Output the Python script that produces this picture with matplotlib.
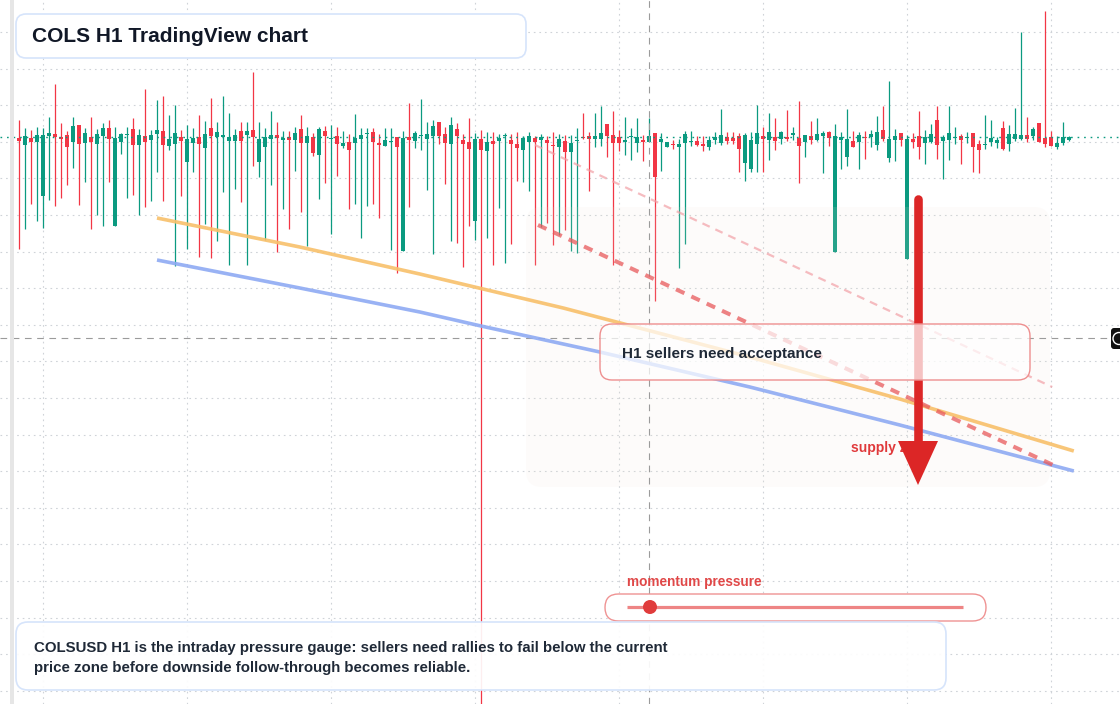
import matplotlib
matplotlib.use("Agg")
import matplotlib.pyplot as plt
from matplotlib.patches import FancyBboxPatch, Rectangle, Polygon, Circle
from matplotlib.transforms import Affine2D
import numpy as np

W, H = 1120, 704

# ---- OHLC data (chart units; vertical scale grows downward, smaller = higher price) ----
opens = [
    138,145,138,142,196,136,134,137,135,142,125,143,137,144,136,128,226,142,135,129,145,136,
    140,134,131,146,144,137,162,143,137,148,128,137,137,141,141,131,135,130,162,147,139,135,
    140,137,140,129,143,137,155,131,139,136,146,142,143,139,134,132,143,146,142,137,251,137,
    141,136,139,136,122,134,144,129,140,142,221,139,151,141,141,136,140,144,150,142,138,140,
    140,145,147,141,152,141,137,136,139,139,124,135,137,142,137,143,140,142,133,142,147,144,
    147,143,142,141,144,147,140,143,137,138,136,163,169,144,136,140,137,139,137,135,138,142,
    136,140,136,132,252,140,157,141,142,137,137,145,130,158,140,133,259,139,136,143,142,120,
    141,140,138,136,138,133,144,145,142,143,128,144,139,139,135,136,123,138,137,147,143,140]
closes = [
    141,136,142,135,135,133,137,139,147,126,144,133,142,134,128,139,138,134,134,145,135,142,
    135,130,145,139,133,141,139,138,144,134,136,132,135,137,135,141,131,137,139,137,135,138,
    138,140,133,143,136,153,129,136,138,144,143,150,138,135,133,142,145,140,141,147,138,140,
    133,135,134,126,136,143,125,136,144,149,139,150,142,144,138,135,144,148,138,136,142,137,
    143,146,139,152,143,140,138,139,136,133,136,143,143,140,136,137,142,136,177,139,142,145,
    144,134,141,145,146,140,137,135,141,141,149,135,140,133,139,132,141,132,139,133,146,135,
    140,134,133,138,136,137,139,147,135,138,134,132,139,139,136,140,139,142,147,137,134,145,
    137,133,137,140,137,147,150,144,138,140,149,134,134,135,139,129,142,144,146,143,137,137]
highs = [
    120,128,130,127,128,117,84,123,131,117,125,128,117,129,123,120,127,133,127,118,129,89,
    130,100,96,115,105,130,125,128,115,121,98,122,96,113,129,122,122,72,122,128,111,122,
    131,131,127,115,127,133,127,126,125,127,131,134,114,128,128,128,134,128,128,137,131,103,
    131,99,122,120,122,127,117,123,134,118,133,130,132,132,134,133,134,132,136,132,136,134,
    136,132,134,135,135,128,113,132,113,106,124,111,130,117,128,118,135,118,133,133,142,140,
    139,131,131,136,136,136,132,109,132,132,133,133,132,105,127,113,118,131,110,127,101,135,
    121,118,131,131,124,132,109,131,132,131,130,116,106,81,129,133,135,133,111,130,124,106,
    135,106,127,134,132,133,140,115,120,137,121,125,108,32,117,127,123,11,131,136,122,136]
lows = [
    249,229,204,221,228,200,206,198,185,168,205,182,229,215,226,182,226,154,198,195,215,207,
    201,172,201,150,266,196,249,172,257,224,258,241,192,265,189,202,265,166,177,240,185,252,
    209,229,171,212,246,156,199,183,234,176,148,209,204,238,206,204,218,146,250,273,251,207,
    148,150,190,254,144,184,241,243,267,226,240,740,238,265,208,263,244,181,182,191,265,227,
    223,245,235,230,251,253,139,191,147,146,157,265,151,155,160,152,161,142,301,171,147,149,
    268,244,146,146,151,150,144,145,144,144,172,181,172,172,172,160,150,144,141,140,183,157,
    144,141,173,146,252,169,166,147,169,159,147,150,141,162,161,146,259,148,159,164,143,159,
    179,160,144,164,143,172,173,149,146,148,150,151,141,140,142,140,142,147,146,149,145,141]

last_price = 137
crosshair_bar = 105
crosshair_level = 338

# overlay studies (bar index, chart level)
orange_x = [23, 46.8, 66.8, 90.7, 121.8, 146.8, 175.8]
orange_y = [218, 247, 274, 308, 357, 399, 451]
blue_x = [23, 46.8, 66.8, 77, 96.8, 121.8, 146.8, 175.8]
blue_y = [260, 288, 312, 326, 352, 387, 425, 471]
red_dash_x = [86.5, 172.7]
red_dash_y = [225, 466]
pink_dash_x = [86.0, 172.2]
pink_dash_y = [145, 387]

title = "COLS H1 TradingView chart"
note_h1 = "H1 sellers need acceptance"
zone_label = "supply zone"
momentum_label = "momentum pressure"
bottom_text = ("COLSUSD H1 is the intraday pressure gauge: sellers need rallies to fail below the current\n"
               "price zone before downside follow-through becomes reliable.")

GREEN = "#0b9a80"
RED = "#f23645"
FONT = "Liberation Sans"

fig = plt.figure(figsize=(W / 100, H / 100), dpi=100)
ax = fig.add_axes([0, 0, 1, 1])
ax.set_xlim(-19 / 6, (W - 19) / 6)
ax.set_ylim(H, 0)
ax.axis("off")
ax.set_autoscale_on(False)

px = Affine2D().scale(1 / W, -1 / H).translate(0, 1) + fig.transFigure

# grid
for lvl in np.arange(32, H, 36.6):
    ax.axhline(lvl, color="#cfd3d8", lw=0.8, ls=(0, (1.5, 3.5)), zorder=1)
for b in range(4, 180, 24):
    ax.axvline(b, color="#cfd3d8", lw=0.8, ls=(0, (1.5, 3.5)), zorder=1)

# candles
o = np.array(opens, float)
c = np.array(closes, float)
hi = np.array(highs, float)
lo = np.array(lows, float)
idx = np.arange(len(o))
cols = np.where(c <= o, GREEN, RED)
ax.vlines(idx, hi, lo, colors=cols, lw=0.9, zorder=2)
body_bot = np.minimum(o, c)
body_h = np.maximum(np.abs(o - c), 1.2)
ax.bar(idx, body_h, bottom=body_bot, width=0.75, color=cols, lw=0, zorder=2.1)

# last price line
ax.axhline(last_price, color=GREEN, lw=1.0, ls=(0, (1.2, 3.5)), zorder=2.2)

# supply zone shading
ax.add_patch(FancyBboxPatch((526, 207), 524, 280, boxstyle="round,pad=0,rounding_size=16",
                            transform=px, fc=(240/255, 228/255, 215/255), alpha=0.12, ec="none", zorder=3))

# crosshair
ax.axvline(crosshair_bar, color="#9b9b9b", lw=0.8, ls=(0, (6, 5)), zorder=3.5)
ax.axhline(crosshair_level, color="#9b9b9b", lw=0.8, ls=(0, (6, 5)), zorder=3.5, xmax=1110 / W)

# trend studies
ax.plot(orange_x, orange_y, color="#f8c06a", lw=2.6, alpha=0.9, zorder=4, solid_capstyle="butt")
ax.plot(blue_x, blue_y, color="#8eaaf3", lw=2.6, alpha=0.9, zorder=4, solid_capstyle="butt")
ax.plot(red_dash_x, red_dash_y, color="#e8595b", lw=2.9, alpha=0.75, ls=(0, (2.3, 1.9)), zorder=4.1)
ax.plot(pink_dash_x, pink_dash_y, color="#f2a0a6", lw=1.6, alpha=0.7, ls=(0, (3.6, 2.8)), zorder=4.1)

# supply zone label and arrow
ax.text(851, 448, zone_label, transform=px, color="#e0393b", fontsize=10, fontweight="bold",
        family=FONT, va="center", ha="left", zorder=5)
ax.plot([918, 918], [199, 445], transform=px, color="#dc2626", lw=6.2, solid_capstyle="round", zorder=5.5)
ax.add_patch(Polygon([(898, 441), (938, 441), (918, 485)], closed=True, transform=px,
                     fc="#dc2626", ec="none", zorder=5.5))

# H1 note box
ax.add_patch(FancyBboxPatch((600, 324), 430, 56, boxstyle="round,pad=0,rounding_size=12",
                            transform=px, fc=(1, 1, 1, 0.72), ec="#ee8f8f", lw=1.0, zorder=6))
ax.text(622, 354, note_h1, transform=px, color="#1f2937", fontsize=11, fontweight="bold",
        family=FONT, va="center", ha="left", zorder=6.5)

# momentum gauge
ax.text(627, 582, momentum_label, transform=px, color="#e04848", fontsize=9.8, fontweight="bold",
        family=FONT, va="center", ha="left", zorder=7)
ax.add_patch(FancyBboxPatch((605, 594), 381, 27, boxstyle="round,pad=0,rounding_size=13.5",
                            transform=px, fc="white", ec="#ef9393", lw=1.0, zorder=7))
ax.plot([627, 963], [607, 607], transform=px, color="#ee8585", lw=2.3, zorder=7.1, solid_capstyle="butt")
ax.add_patch(Circle((650, 607), 7, transform=px, fc="#e03c3c", ec="none", zorder=7.2))

# bottom text box
ax.add_patch(FancyBboxPatch((16, 622), 930, 68, boxstyle="round,pad=0,rounding_size=12",
                            transform=px, fc=(1, 1, 1, 0.92), ec="#d6e4fb", lw=1.2, zorder=7))
ax.text(34, 658, bottom_text, transform=px, color="#1f2937", fontsize=10.8, fontweight="bold",
        family=FONT, va="center", ha="left", linespacing=1.55, zorder=7.5)

# title box
ax.add_patch(FancyBboxPatch((16, 14), 510, 44, boxstyle="round,pad=0,rounding_size=10",
                            transform=px, fc="white", ec="#d6e4fb", lw=1.2, zorder=7))
ax.text(32, 36.5, title, transform=px, color="#111827", fontsize=15, fontweight="bold",
        family=FONT, va="center", ha="left", zorder=7.5)

# left price-scale strip and right tag
ax.add_patch(Rectangle((10, 0), 4, H, transform=px, fc="#e6e6e6", ec="none", zorder=8))
ax.add_patch(FancyBboxPatch((1111, 328), 14, 21, boxstyle="round,pad=0,rounding_size=3",
                            transform=px, fc="#111111", ec="none", zorder=8))
ax.add_patch(Circle((1119, 338.5), 6, transform=px, fc="none", ec="white", lw=1.0, zorder=8.1))

fig.savefig("out.png", dpi=100)
